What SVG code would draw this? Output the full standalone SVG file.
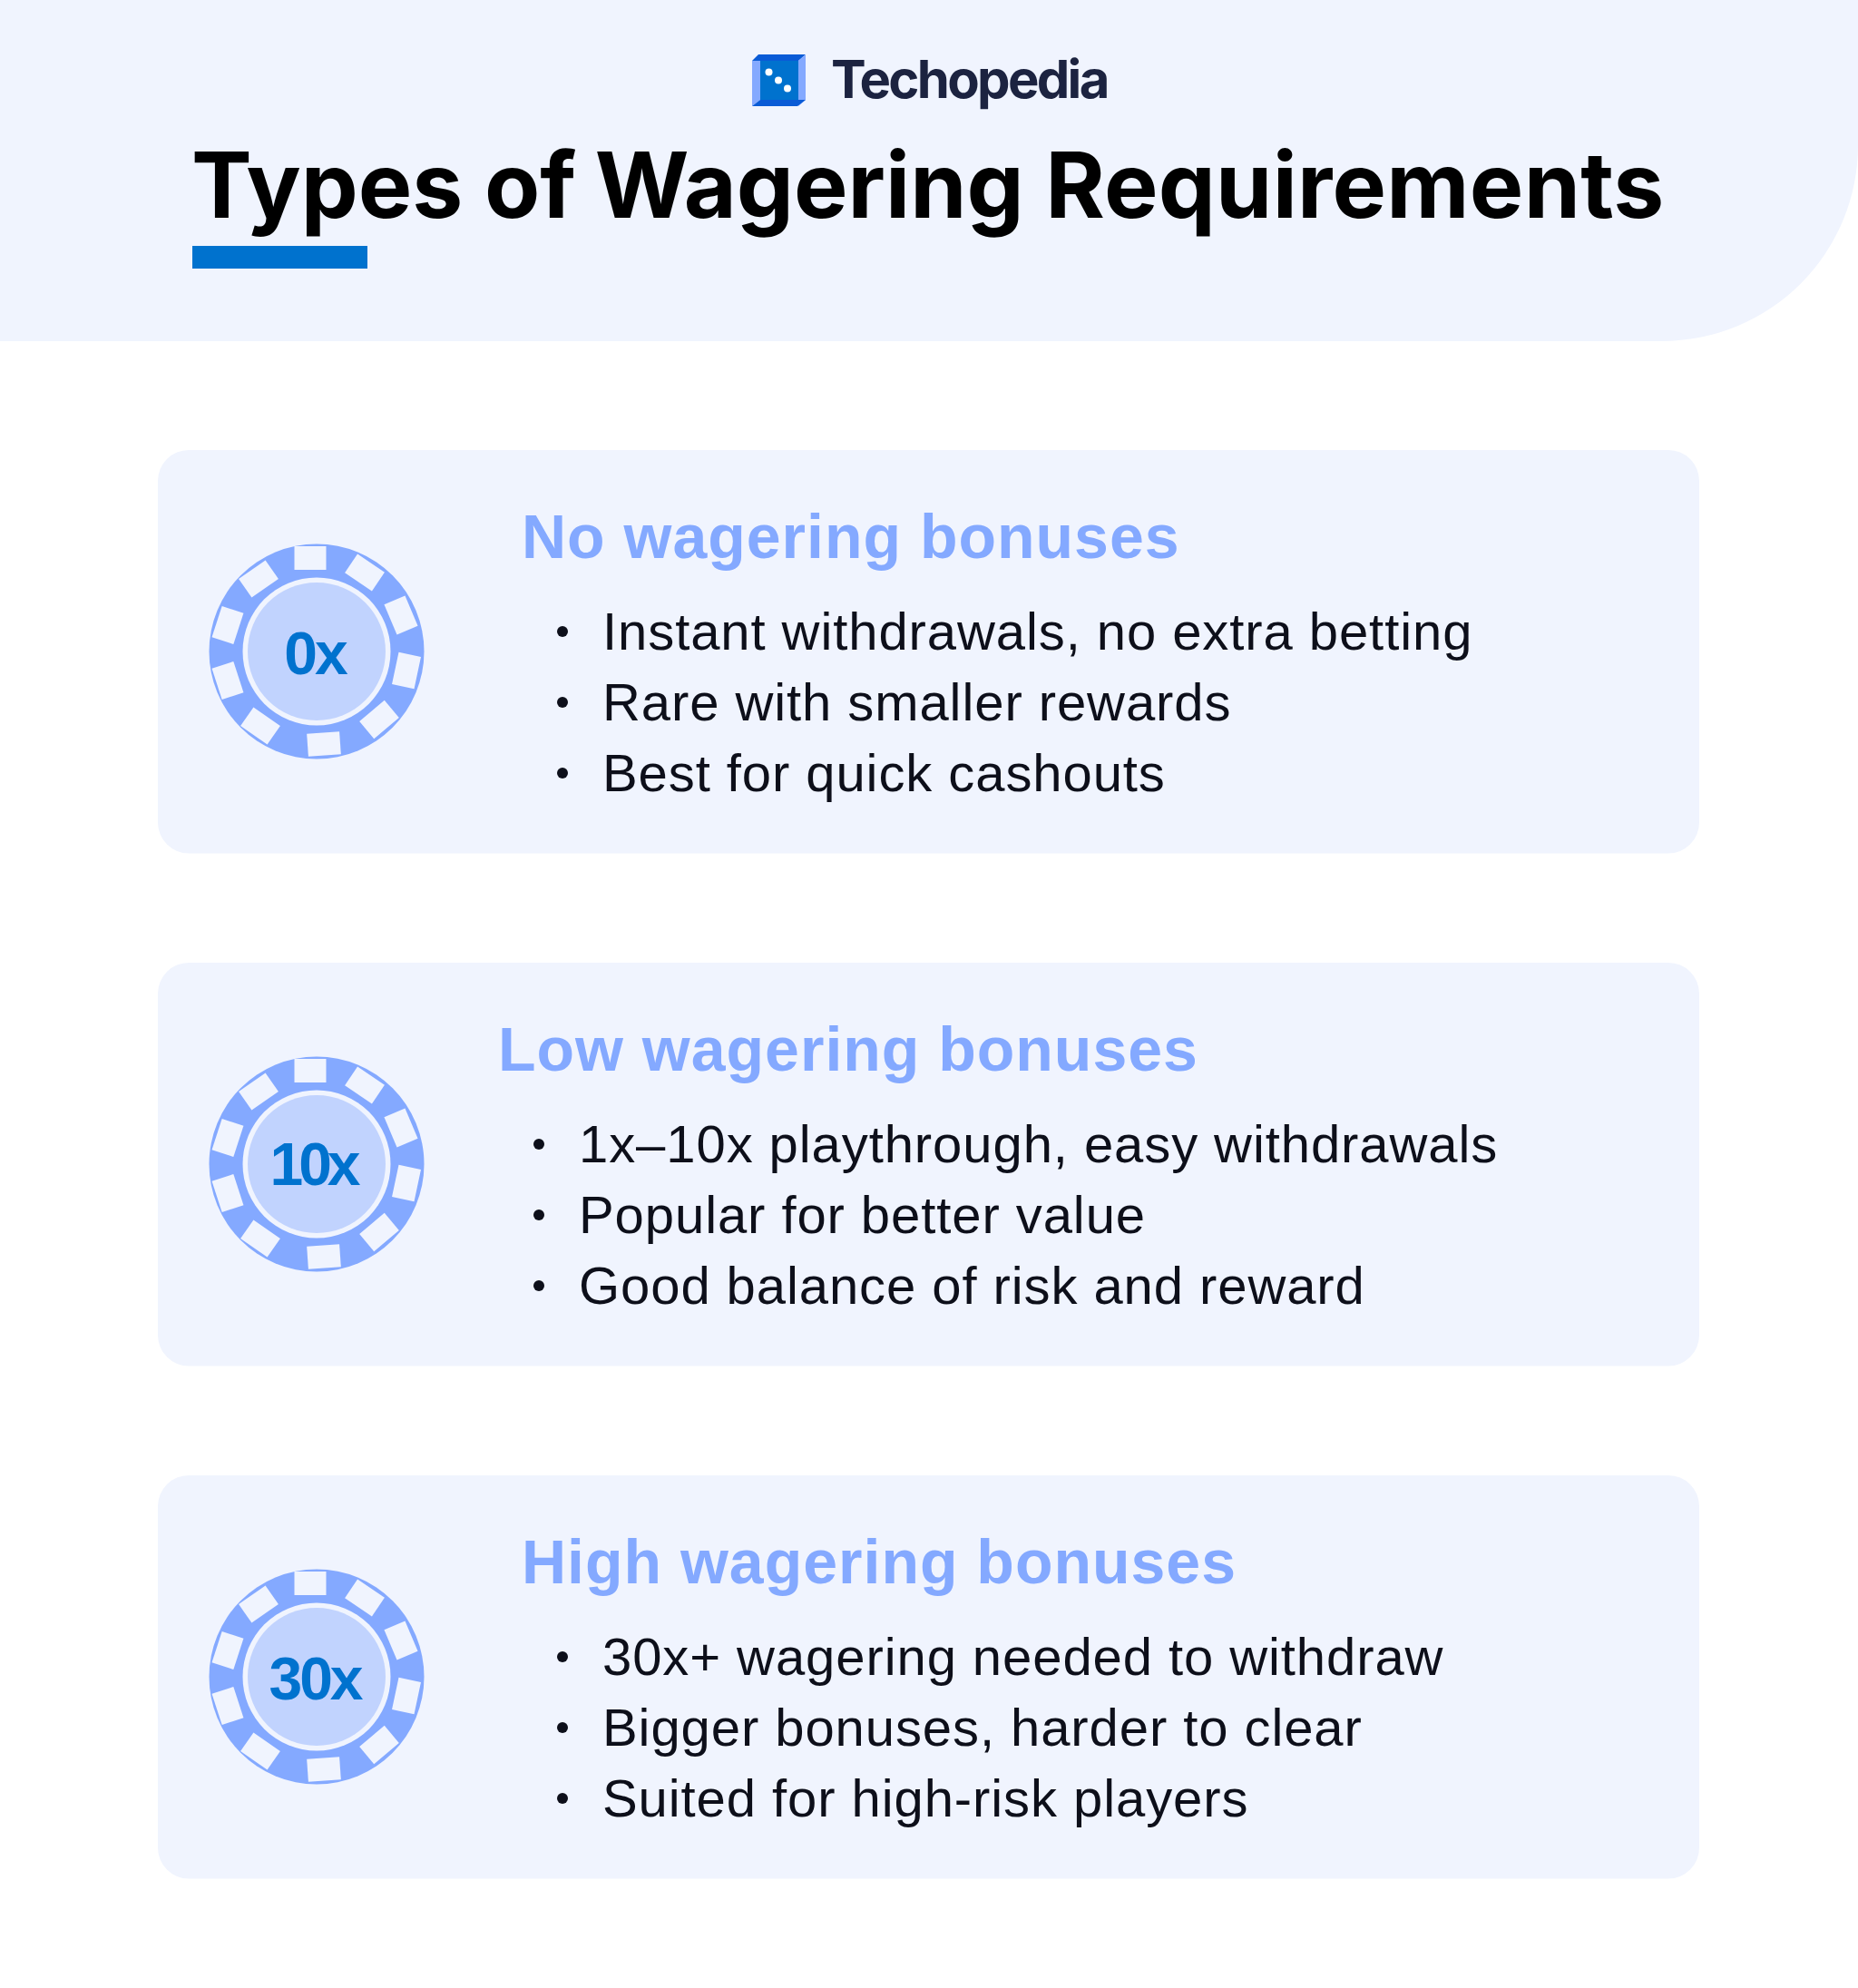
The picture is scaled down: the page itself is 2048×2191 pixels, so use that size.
<svg xmlns="http://www.w3.org/2000/svg" width="2048" height="2191" viewBox="0 0 2048 2191">
<style>
text{font-family:"Liberation Sans",Arial,sans-serif}
.i{font-family:Inter,"Liberation Sans",sans-serif}
.card{fill:#f0f4fe}
.h{font-size:68px;font-weight:700;fill:#84a9ff;letter-spacing:1px}
.b{font-size:58px;font-weight:400;fill:#0d0f1a;letter-spacing:.92px}
.n{font-size:66px;font-weight:700;fill:#0072ce;text-anchor:middle;letter-spacing:-3px}
.t{fill:#f0f4fe}
.d{fill:#0d0f1a}
</style>
<defs>
<g id="chip">
<circle r="118.500" fill="#84a9ff"/>
<g class="t">
<rect x="-17.500" y="-13" width="35" height="26" transform="translate(-7 -103)"/>
<rect x="-18" y="-12.500" width="36" height="25" transform="translate(53 -87) rotate(34)"/>
<rect x="-18" y="-12.500" width="36" height="25" transform="translate(93 -40) rotate(67)"/>
<rect x="-18" y="-12.500" width="36" height="25" transform="translate(99 21) rotate(102)"/>
<rect x="-18" y="-12.500" width="36" height="25" transform="translate(69 75) rotate(140)"/>
<rect x="-18" y="-12.500" width="36" height="25" transform="translate(8 102) rotate(176)"/>
<rect x="-18" y="-12.500" width="36" height="25" transform="translate(-62 82) rotate(215)"/>
<rect x="-18" y="-12.500" width="36" height="25" transform="translate(-98 32) rotate(252)"/>
<rect x="-18" y="-12.500" width="36" height="25" transform="translate(-98 -29) rotate(288)"/>
<rect x="-18" y="-12.500" width="36" height="25" transform="translate(-64 -80) rotate(325)"/>
</g>
<circle r="81.500" fill="#f0f4fe"/>
<circle r="76" fill="#c1d3fe"/>
</g>
</defs>
<g id="header">
<path d="M0 0H2048V160A216 216 0 0 1 1832 376H0Z" fill="#f0f4fe"/>
<g id="logo">
<path d="M836 60H888L880 67H829Z" fill="#0a5bd6"/>
<path d="M829 67V117L838 110V67Z" fill="#84a9ff"/>
<path d="M888 60V110L880 117V67Z" fill="#84a9ff"/>
<path d="M829 117L838 110H888L879 117Z" fill="#0a5bd6"/>
<rect x="838" y="67" width="42" height="43" fill="#0072ce"/>
<circle cx="847.500" cy="79.500" r="4" fill="#fff"/>
<circle cx="858" cy="88.500" r="4" fill="#fff"/>
<circle cx="868" cy="97.500" r="4" fill="#fff"/>
<text class="i" x="916" y="108" font-size="58" font-weight="700" fill="#1c2340" letter-spacing="-2.700">Techopedia</text>
</g>
<text class="i" x="211" y="240" font-size="100" font-weight="700" fill="#000">Types of <tspan dx="-3">Wagering</tspan> <tspan letter-spacing=".25">Requirements</tspan></text>
<rect x="212" y="271" width="193" height="25" fill="#0072ce"/>
</g>
<g id="card-1">
<rect class="card" x="174" y="496" width="1699" height="444.500" rx="34"/>
<use href="#chip" x="349" y="718"/>
<text class="n" x="347" y="743">0x</text>
<text class="h" x="575" y="615">No wagering bonuses</text>
<circle class="d" cx="620" cy="696" r="6"/><circle class="d" cx="620" cy="774" r="6"/><circle class="d" cx="620" cy="852" r="6"/>
<text class="b" x="664" y="716">Instant withdrawals, no extra betting</text>
<text class="b" x="664" y="794">Rare with smaller rewards</text>
<text class="b" x="664" y="872">Best for quick cashouts</text>
</g>
<g id="card-2">
<rect class="card" x="174" y="1061" width="1699" height="444.500" rx="34"/>
<use href="#chip" x="349" y="1283"/>
<text class="n" x="345" y="1306" style="letter-spacing:-5px">10x</text>
<text class="h" x="549" y="1180">Low wagering bonuses</text>
<circle class="d" cx="594" cy="1261" r="6"/><circle class="d" cx="594" cy="1339" r="6"/><circle class="d" cx="594" cy="1417" r="6"/>
<text class="b" x="638" y="1281">1x–10x playthrough, easy withdrawals</text>
<text class="b" x="638" y="1359">Popular for better value</text>
<text class="b" x="638" y="1437">Good balance of risk and reward</text>
</g>
<g id="card-3">
<rect class="card" x="174" y="1626" width="1699" height="444.500" rx="34"/>
<use href="#chip" x="349" y="1848"/>
<text class="n" x="347" y="1873">30x</text>
<text class="h" x="575" y="1745">High wagering bonuses</text>
<circle class="d" cx="620" cy="1826" r="6"/><circle class="d" cx="620" cy="1904" r="6"/><circle class="d" cx="620" cy="1982" r="6"/>
<text class="b" x="664" y="1846">30x+ wagering needed to withdraw</text>
<text class="b" x="664" y="1924">Bigger bonuses, harder to clear</text>
<text class="b" x="664" y="2002">Suited for high-risk players</text>
</g>
</svg>
